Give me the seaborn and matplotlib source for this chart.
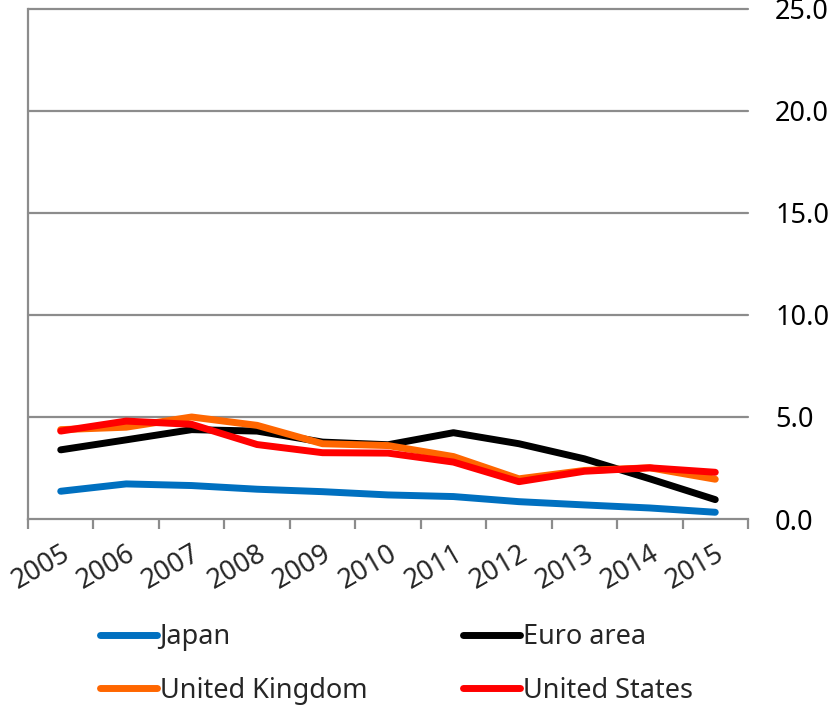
import matplotlib
matplotlib.use("Agg")
import matplotlib.pyplot as plt
import seaborn as sns
import pandas as pd
import numpy as np
from matplotlib.ticker import FormatStrFormatter, FixedLocator

years = ["2005", "2006", "2007", "2008", "2009", "2010",
         "2011", "2012", "2013", "2014", "2015"]
japan = [1.36, 1.72, 1.64, 1.46, 1.34, 1.18, 1.10, 0.85, 0.69, 0.54, 0.33]
euro_area = [3.39, 3.88, 4.38, 4.31, 3.77, 3.64, 4.23, 3.69, 2.95, 1.97, 0.95]
united_kingdom = [4.38, 4.50, 5.00, 4.59, 3.69, 3.60, 3.06, 1.97, 2.38, 2.51, 1.95]
united_states = [4.31, 4.80, 4.64, 3.65, 3.25, 3.23, 2.79, 1.83, 2.34, 2.51, 2.29]

series = {
    "Japan": japan,
    "Euro area": euro_area,
    "United Kingdom": united_kingdom,
    "United States": united_states,
}
colors = {
    "Japan": "#0070C0",
    "Euro area": "#000000",
    "United Kingdom": "#FF6600",
    "United States": "#FF0000",
}

df = pd.DataFrame(
    [(i, name, v) for name, vals in series.items() for i, v in enumerate(vals)],
    columns=["pos", "series", "value"],
)

sns.set_theme(style="white")
plt.rcParams["font.family"] = ["Noto Sans", "DejaVu Sans"]
FS = 19.5

fig = plt.figure(figsize=(8.35, 7.05), dpi=100)
ax = fig.add_axes([28 / 835, 1 - 519 / 705, 720 / 835, 510 / 705])

sns.lineplot(data=df, x="pos", y="value", hue="series", palette=colors,
             hue_order=list(series.keys()), linewidth=5, ax=ax,
             legend=False, solid_capstyle="round", zorder=3)

grid_c = "#8C8C8C"
ax.set_xlim(-0.5, len(years) - 0.5)
ax.set_ylim(0, 25)
ax.set_yticks(np.arange(0, 26, 5))
ax.yaxis.set_major_formatter(FormatStrFormatter("%.1f"))
ax.yaxis.tick_right()
ax.tick_params(axis="y", length=0, pad=19.5, labelsize=FS, colors="black")
for y in np.arange(5, 26, 5):
    ax.axhline(y, color=grid_c, lw=1.6, zorder=1, clip_on=False)

ax.set_xticks(range(len(years)))
ax.set_xticklabels(years, rotation=30, ha="right", rotation_mode="anchor")
ax.xaxis.set_minor_locator(FixedLocator(np.arange(-0.5, len(years), 1.0)))
ax.tick_params(axis="x", which="major", length=0, pad=15, labelsize=FS)
ax.tick_params(axis="x", which="minor", length=7, width=1.6, color=grid_c,
               direction="out", bottom=True)

for side in ["top", "right"]:
    ax.spines[side].set_visible(False)
for side in ["left", "bottom"]:
    ax.spines[side].set_color(grid_c)
    ax.spines[side].set_linewidth(1.6)
ax.set_xlabel("")
ax.set_ylabel("")

handles = [plt.Line2D([], [], color=colors[n], lw=5, solid_capstyle="round")
           for n in series]
order = [0, 2, 1, 3]
fig.legend([handles[i] for i in order], [list(series)[i] for i in order],
           ncol=2, loc="upper left", bbox_to_anchor=(100 / 835, 1 - 623 / 705),
           frameon=False, fontsize=FS, handlelength=2.1, handletextpad=0.1,
           columnspacing=3.55, labelspacing=0.95, borderpad=0, borderaxespad=0)

fig.savefig("out.png", dpi=100)
